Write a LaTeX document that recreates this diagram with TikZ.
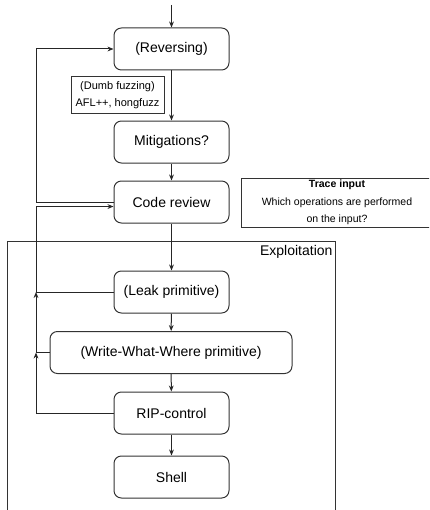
\documentclass[tikz,border=0pt]{standalone}
\usepackage{fontspec}
\setmainfont{Liberation Sans}
\usetikzlibrary{arrows.meta}
\begin{document}
\begin{tikzpicture}[x=0.75pt,y=-0.75pt,
  line width=0.75pt,
  stepbox/.style={draw=black!80, rounded corners=5.5pt, inner sep=0pt,
    minimum width=86.25pt, minimum height=31.5pt,
    font=\fontsize{10.5}{12}\selectfont},
  notebox/.style={draw=black!80, inner sep=0pt, align=center},
  arr/.style={draw=black!85, -{Stealth[length=4.5pt,width=3.6pt]}},
  link/.style={draw=black!85}]
\useasboundingbox (0,0) rectangle (429,510);
\clip (0,0) rectangle (429,510);

% exploitation frame
\node[draw=black!80, inner sep=0pt, minimum width=246pt, minimum height=210pt,
  anchor=north west] (frame) at (7.3,241) {};
\node[anchor=east, inner sep=0pt, font=\fontsize{10.5}{12}\selectfont]
  (frametitle) at (333,252) {Exploitation};

% process steps
\node[stepbox] (rev) at (171.5,49) {(Reversing)};
\node[stepbox] (mit) at (171.5,142) {Mitigations?};
\node[stepbox] (cr) at (171.5,202) {Code review};
\node[stepbox] (leak) at (171.5,292) {(Leak primitive)};
\node[stepbox, minimum width=181.5pt] (www) at (171,352.5) {(Write-What-Where primitive)};
\node[stepbox] (rip) at (171.5,413) {RIP-control};
\node[stepbox] (shell) at (171.5,477) {Shell};

% side notes
\node[notebox, minimum width=69.75pt, minimum height=27pt,
  font=\fontsize{8.25}{13}\selectfont] (fuzz) at (117.5,95)
  {(Dumb fuzzing)\\AFL++, hongfuzz};
\node[notebox, minimum width=144pt, minimum height=36.75pt,
  font=\fontsize{7.9}{13.1}\selectfont] (trace) at (337,202.5)
  {\textbf{Trace input}\\Which operations are performed\\on the input?};

% main flow
\coordinate (entry) at (171.5,5);
\draw[arr] (entry) -- (rev);
\draw[arr] (rev) -- (mit);
\draw[arr] (mit) -- (cr);
\draw[arr] (cr) -- (leak);
\draw[arr] (leak) -- (www);
\draw[arr] (www) -- (rip);
\draw[arr] (rip) -- (shell);

% loop back from code review to reversing
\coordinate (ctop) at (36,49);
\draw[arr] (cr.west) -| (ctop) -- (rev.west);

% loops back from exploitation steps to code review
\coordinate (lj) at (36,292);
\coordinate (wj) at (36,352.5);
\draw[arr] (rip.west) -| (wj);
\draw[link] (www.west) -- (wj);
\draw[arr] (wj) -- (lj);
\draw[link] (leak.west) -- (lj);
\draw[arr] (lj) |- ([yshift=-3.4pt]cr.west);
\end{tikzpicture}
\end{document}
